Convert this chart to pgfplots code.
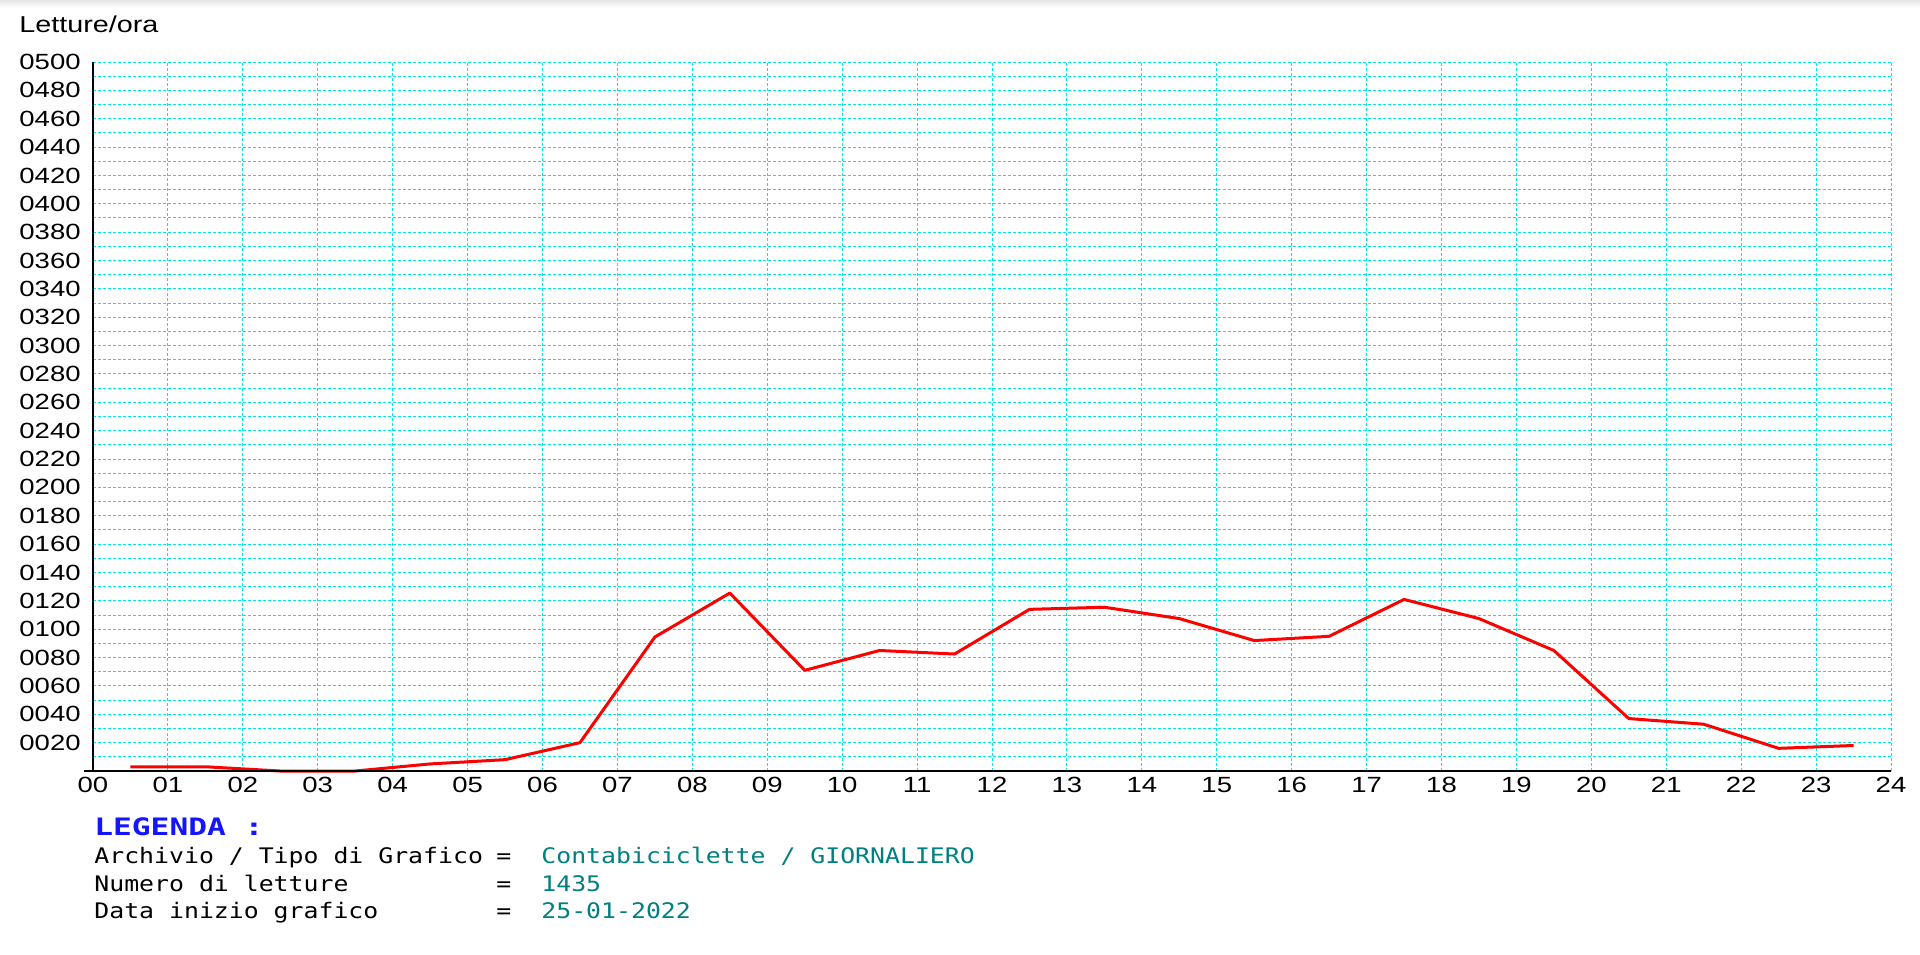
\documentclass[border=0pt]{standalone}
\usepackage{fontspec}
\usepackage{pgfplots}
\pgfplotsset{compat=1.18}

\newfontfamily\tickfont{Liberation Sans}[FakeStretch=1.25]
\newfontfamily\legfont{DejaVu Sans Mono}[FakeStretch=1.16]
\newfontfamily\legbold{DejaVu Sans Mono}[FakeStretch=1.3]

\definecolor{gridc}{RGB}{0,232,232}
\definecolor{valc}{RGB}{0,128,128}
\definecolor{legblue}{RGB}{20,20,255}

\pgfplotstableread{
hour letture
0.5  3
1.5  3
2.5  0
3.5  0
4.5  5
5.5  8
6.5  20
7.5  94.5
8.5  125.5
9.5  71
10.5 85
11.5 82.5
12.5 114
13.5 115.5
14.5 107.5
15.5 92
16.5 95
17.5 121
18.5 107.5
19.5 85
20.5 37
21.5 33
22.5 16
23.5 18
}\orario

\begin{document}
\begin{tikzpicture}
\useasboundingbox (0,0) rectangle (960pt,-477pt);
\shade[top color=black!10, bottom color=white] (0,0) rectangle (960pt,-4pt);

\begin{axis}[
  at={(46.5pt,-385.5pt)}, anchor=south west,
  scale only axis, width=899pt, height=354.5pt,
  xmin=0, xmax=24, ymin=0, ymax=500,
  clip=false,
  xtick={0,...,24},
  xticklabels={00,01,02,03,04,05,06,07,08,09,10,11,12,13,14,15,16,17,18,19,20,21,22,23,24},
  ytick={20,40,...,500},
  yticklabels={0020,0040,0060,0080,0100,0120,0140,0160,0180,0200,0220,0240,0260,0280,0300,0320,0340,0360,0380,0400,0420,0440,0460,0480,0500},
  minor ytick={10,30,...,490},
  grid=both,
  major grid style={gridc, line width=0.5pt, dash pattern=on 1.5pt off 1pt},
  minor grid style={gridc, line width=0.5pt, dash pattern=on 1.5pt off 1pt},
  axis line style={draw=none},
  tick style={draw=none},
  ticklabel style={font=\tickfont\fontsize{11}{11}\selectfont, inner sep=0pt},
  yticklabel style={anchor=east, xshift=-6pt},
  xticklabel style={anchor=north, yshift=-3pt},
]
\addplot[red, line width=1.5pt, line join=round] table[x=hour, y=letture] {\orario};
\draw[black, line width=0.6pt] (axis cs:-0.12,0) -- (axis cs:24,0);
\draw[black, line width=0.6pt] (axis cs:0,0) -- (axis cs:0,500);
\end{axis}

\begin{scope}[x=0.5pt, y=-0.5pt]
\node[anchor=base west, inner sep=0pt, font=\tickfont\fontsize{11.5}{12}\selectfont] at (19,32) {Letture/ora};

\node[anchor=base west, inner sep=0pt, text=legblue, font=\legbold\bfseries\fontsize{12}{12}\selectfont] at (94,835) {LEGENDA :};

\begin{scope}[every node/.style={anchor=base west, inner sep=0pt, font=\legfont\fontsize{10.7}{11}\selectfont}]
\node at (94,863) {Archivio / Tipo di Grafico};
\node at (94,891) {Numero di letture};
\node at (94,918) {Data inizio grafico};
\node at (496,863) {=};
\node at (496,891) {=};
\node at (496,918) {=};
\node[text=valc] at (541,863) {Contabiciclette / GIORNALIERO};
\node[text=valc] at (541,891) {1435};
\node[text=valc] at (541,918) {25-01-2022};
\end{scope}
\end{scope}
\end{tikzpicture}
\end{document}
